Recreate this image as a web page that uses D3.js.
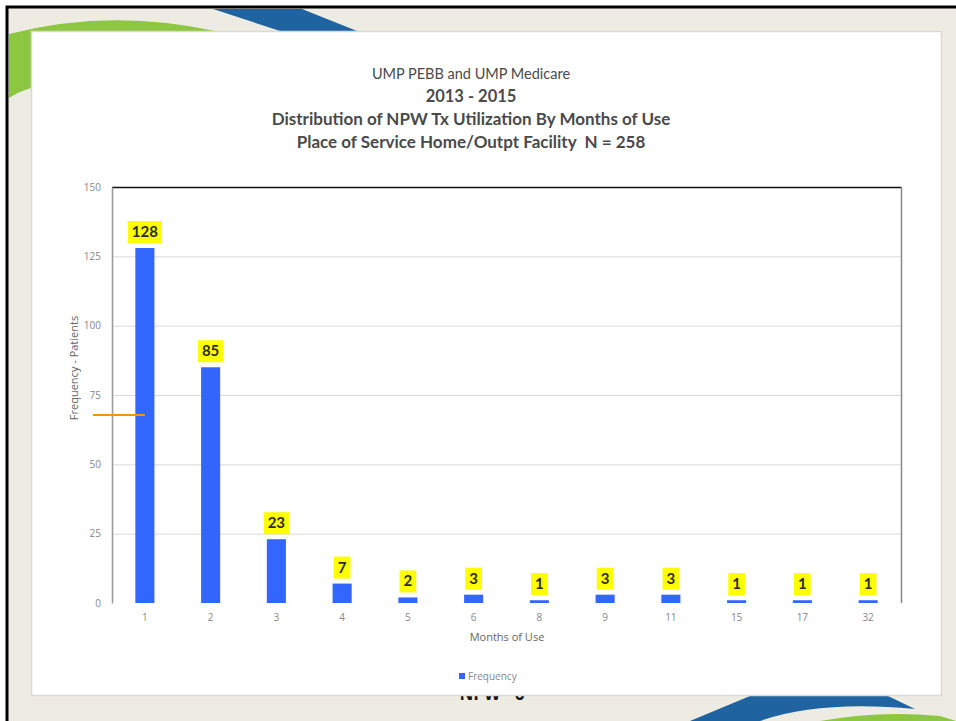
<!DOCTYPE html>
<html>
<head>
<meta charset="utf-8">
<script src="https://cdn.jsdelivr.net/npm/d3@7"></script>
<style>
  body { margin: 0; background: #fff; }
  svg { display: block; }
</style>
</head>
<body>
<div id="chart"></div>
<script>
// chart data
const months = ["1", "2", "3", "4", "5", "6", "8", "9", "11", "15", "17", "32"];
const frequency = [128, 85, 23, 7, 2, 3, 1, 3, 3, 1, 1, 1];
const yTicks = [0, 25, 50, 75, 100, 125, 150];
const titleLines = ["UMP PEBB and UMP Medicare", "2013 - 2015",
    "Distribution of NPW Tx Utilization By Months of Use",
    "Place of Service Home/Outpt Facility  N = 258"];
const markerValue = 67.8; // the stray orange line next to the y axis

const width = 956, height = 721;
const svg = d3.select("#chart").append("svg")
    .attr("width", width)
    .attr("height", height);

// slide background and decorations
svg.append("rect").attr("x", 7).attr("y", 7).attr("width", width).attr("height", height)
    .attr("fill", "#eeece2").attr("stroke", "#000").attr("stroke-width", 3);

// green arc top-left
svg.append("path")
    .attr("d", "M9,34 Q110,8 215,31 L31,31 L31,88 Q18,92 9,98 Z")
    .attr("fill", "#8dc641");
// blue band top
svg.append("path")
    .attr("d", "M213,9 L302,9 L357,31 L280,31 Z")
    .attr("fill", "#1f64a0");
// hidden page label behind the card
svg.append("text").attr("x", 492).attr("y", 700)
    .attr("text-anchor", "middle")
    .style("font", "bold 17px 'Open Sans', sans-serif")
    .attr("fill", "#111")
    .text("NPW - 6");
// bottom right swooshes
svg.append("path")
    .attr("d", "M690,721 L750,696 L888,696 L915,709 Q820,700 760,721 Z")
    .attr("fill", "#1f64a0");
svg.append("path")
    .attr("d", "M820,721 Q880,710 940,716 L956,721 Z")
    .attr("fill", "#8dc641");

// white card
svg.append("rect").attr("x", 31.5).attr("y", 31.5).attr("width", 910).attr("height", 664)
    .attr("fill", "#fff").attr("stroke", "#d9d9d9").attr("stroke-width", 1.5);

// titles
const titleY = [74, 97, 120, 143];
const titleSize = [14.5, 16.5, 17, 17];
titleLines.forEach(function(t, i){
    svg.append("text")
        .attr("x", 471).attr("y", titleY[i] + 5)
        .attr("text-anchor", "middle")
        .attr("fill", "#4a4a4a")
        .attr("xml:space", "preserve")
        .style("white-space", "pre")
        .style("font-family", "Lato, 'Open Sans', sans-serif")
        .style("font-weight", i == 0 ? "normal" : "bold")
        .style("font-size", titleSize[i] + "px")
        .text(t);
});

const margin = {left: 112, right: 901, top: 187, bottom: 603};

const x = d3.scaleBand().domain(months).range([margin.left, margin.right]).paddingInner(0.71).paddingOuter(0.355);
const y = d3.scaleLinear().domain([0, 150]).range([margin.bottom, margin.top]);

// gridlines
svg.append("g")
    .selectAll("line")
    .data(yTicks.filter(d => d > 0 && d < 150))
    .join("line")
    .attr("x1", margin.left).attr("x2", margin.right)
    .attr("y1", d => y(d) + 0.5).attr("y2", d => y(d) + 0.5)
    .attr("stroke", "#d9d9d9");

// frame: black top, grey right and left
svg.append("line").attr("x1", margin.left).attr("x2", margin.right + 1)
    .attr("y1", margin.top + 0.5).attr("y2", margin.top + 0.5)
    .attr("stroke", "#111").attr("stroke-width", 1.5);
svg.append("line").attr("x1", margin.right + 0.5).attr("x2", margin.right + 0.5)
    .attr("y1", margin.top).attr("y2", margin.bottom)
    .attr("stroke", "#888").attr("stroke-width", 1.5);

// y axis
const yAxis = d3.axisLeft(y).tickValues(yTicks).tickSize(0).tickPadding(11);
const yg = svg.append("g").attr("transform", `translate(${margin.left},0)`).call(yAxis);
yg.select(".domain").attr("stroke", "#999").attr("stroke-width", 1.5);
yg.selectAll("text").attr("fill", "#888")
    .style("font-family", "'Open Sans', sans-serif").style("font-size", "10px");

// x axis
const xAxis = d3.axisBottom(x).tickSize(0).tickPadding(11);
const xg = svg.append("g").attr("transform", `translate(0,${margin.bottom})`).call(xAxis);
xg.select(".domain").remove();
xg.selectAll("text").attr("fill", "#888")
    .style("font-family", "'Open Sans', sans-serif").style("font-size", "10px");

// axis titles
svg.append("text")
    .attr("transform", `translate(78,${(margin.top + margin.bottom) / 2 - 27}) rotate(-90)`)
    .attr("text-anchor", "middle").attr("fill", "#666")
    .style("font-family", "'Open Sans', sans-serif").style("font-size", "11px")
    .text("Frequency - Patients");
svg.append("text")
    .attr("x", 507).attr("y", 641)
    .attr("text-anchor", "middle").attr("fill", "#666")
    .style("font-family", "'Open Sans', sans-serif").style("font-size", "11px")
    .text("Months of Use");

// bars
svg.append("g").selectAll("rect")
    .data(frequency)
    .join("rect")
    .attr("x", (d, i) => x(months[i]))
    .attr("y", d => y(d))
    .attr("width", x.bandwidth())
    .attr("height", d => y(0) - y(d))
    .attr("fill", "#3366ff");

// value labels with yellow boxes
const labels = svg.append("g").selectAll("g")
    .data(frequency)
    .join("g")
    .attr("transform", (d, i) => `translate(${x(months[i]) + x.bandwidth() / 2},${y(d) - 5})`);
labels.append("rect").attr("fill", "#ffff00");
labels.append("text")
    .attr("text-anchor", "middle")
    .attr("y", -6)
    .attr("fill", "#2b2b2b")
    .style("font-family", "Lato, 'Open Sans', sans-serif")
    .style("font-weight", "bold")
    .style("font-size", "15px")
    .text(d => d);
labels.each(function(){
    const g = d3.select(this);
    const w = g.select("text").node().getComputedTextLength() + 8;
    g.select("rect").attr("x", -w / 2).attr("y", -22).attr("width", w).attr("height", 22);
});

// orange marker line
svg.append("line")
    .attr("x1", 93).attr("x2", x(months[0]) + x.bandwidth() / 2)
    .attr("y1", y(markerValue)).attr("y2", y(markerValue))
    .attr("stroke", "#f0960a").attr("stroke-width", 2);

// legend
svg.append("rect").attr("x", 459).attr("y", 673).attr("width", 6).attr("height", 6).attr("fill", "#3366ff");
svg.append("text").attr("x", 468).attr("y", 680)
    .attr("fill", "#888")
    .style("font-family", "'Open Sans', sans-serif").style("font-size", "10px")
    .text("Frequency");
</script>
</body>
</html>
